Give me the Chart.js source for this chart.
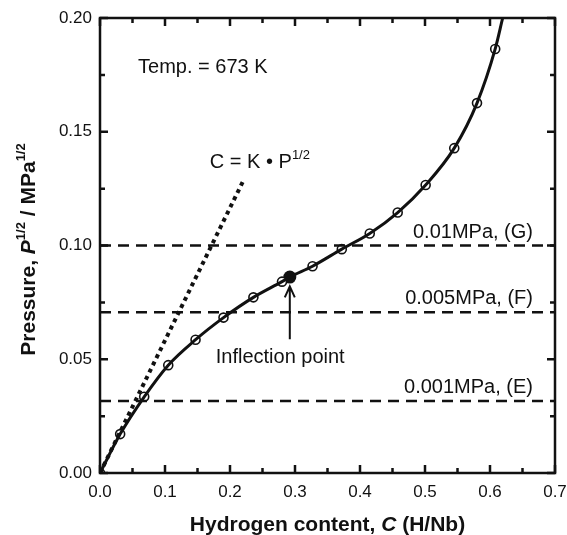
<!DOCTYPE html>
<html>
<head>
<meta charset="utf-8">
<script src="https://cdn.jsdelivr.net/npm/chart.js@4.4.0/dist/chart.umd.min.js"></script>
<style>
  html, body { margin: 0; padding: 0; background: #fff; }
  canvas { display: block; }
</style>
</head>
<body>
<canvas id="chart" width="567" height="535"></canvas>
<script>
// measured points (H/Nb vs sqrt(P))
const contentC = [0, 0.031, 0.068, 0.105, 0.147, 0.190, 0.236, 0.280, 0.327, 0.372, 0.415, 0.458, 0.501, 0.545, 0.580, 0.608];
const pressureP = [0, 0.0171, 0.0335, 0.0474, 0.0586, 0.0683, 0.0772, 0.0841, 0.0909, 0.0984, 0.1053, 0.1145, 0.1266, 0.1428, 0.1626, 0.1864];

// inflection point
const inflectionC = [0.292];
const inflectionP = [0.0861];

// fitted curve continues up past the last point
const curveEndC = [0.6195];
const curveEndP = [0.20];

// Sieverts law line C = K * P^1/2
const sievertsC = [0, 0.2205];
const sievertsP = [0, 0.1285];

// isobars, sqrt of pressure
const isobarP = [0.1, 0.0707, 0.0316];
const isobarLabels = ['0.01MPa, (G)', '0.005MPa, (F)', '0.001MPa, (E)'];

const xTicks = [0, 0.1, 0.2, 0.3, 0.4, 0.5, 0.6, 0.7];
const yTicks = [0, 0.05, 0.10, 0.15, 0.20];

const ink = '#111';
const FONT = '"Liberation Sans", Arial, sans-serif';

const toXY = (xs, ys) => xs.map((x, i) => ({ x: x, y: ys[i] }));

// curve goes through all points incl. inflection point
const curvePts = toXY(contentC, pressureP)
    .concat(toXY(inflectionC, inflectionP))
    .concat(toXY(curveEndC, curveEndP))
    .sort((a, b) => a.x - b.x);

const datasets = [];

isobarP.forEach(p => {
    datasets.push({
        data: [{ x: 0, y: p }, { x: 0.7, y: p }],
        showLine: true,
        borderColor: ink,
        borderWidth: 2.5,
        borderDash: [11, 7],
        pointRadius: 0
    });
});

datasets.push({
    data: toXY(sievertsC, sievertsP),
    showLine: true,
    borderColor: ink,
    borderWidth: 4,
    borderDash: [4, 4],
    pointRadius: 0
});

datasets.push({
    data: curvePts,
    showLine: true,
    borderColor: ink,
    borderWidth: 3,
    cubicInterpolationMode: 'monotone',
    pointRadius: 0
});

datasets.push({
    data: toXY(contentC, pressureP),
    showLine: false,
    pointRadius: 4.5,
    pointBorderWidth: 1.6,
    pointBackgroundColor: '#fff',
    pointBorderColor: ink
});

datasets.push({
    data: toXY(inflectionC, inflectionP),
    showLine: false,
    pointRadius: 6.5,
    pointBorderWidth: 0,
    pointBackgroundColor: ink,
    pointBorderColor: ink
});

// draws runs of text with different fonts, [text, font, dy]
function drawRuns(ctx, runs, x, y, align) {
    let total = 0;
    runs.forEach(r => { ctx.font = r[1]; total += ctx.measureText(r[0]).width; });
    let cx = align === 'center' ? x - total / 2 : (align === 'right' ? x - total : x);
    ctx.textAlign = 'left';
    runs.forEach(r => {
        ctx.font = r[1];
        ctx.fillText(r[0], cx, y + (r[2] || 0));
        cx += ctx.measureText(r[0]).width;
    });
}

const framePlugin = {
    id: 'frame',
    afterDraw(chart) {
        const ctx = chart.ctx;
        const a = chart.chartArea;
        const xs = chart.scales.x;
        const ys = chart.scales.y;
        ctx.save();
        ctx.strokeStyle = ink;
        ctx.fillStyle = ink;

        // inward ticks on every side
        ctx.lineWidth = 2.5;
        for (let i = 0; i <= 14; i++) {
            const v = i * 0.05;
            const px = xs.getPixelForValue(v);
            const len = i % 2 === 0 ? 8 : 5;
            ctx.beginPath();
            ctx.moveTo(px, a.bottom); ctx.lineTo(px, a.bottom - len);
            ctx.moveTo(px, a.top); ctx.lineTo(px, a.top + len);
            ctx.stroke();
        }
        for (let i = 0; i <= 8; i++) {
            const v = i * 0.025;
            const py = ys.getPixelForValue(v);
            const len = i % 2 === 0 ? 8 : 5;
            ctx.beginPath();
            ctx.moveTo(a.left, py); ctx.lineTo(a.left + len, py);
            ctx.moveTo(a.right, py); ctx.lineTo(a.right - len, py);
            ctx.stroke();
        }
        ctx.lineWidth = 2.5;
        ctx.strokeRect(a.left, a.top, a.right - a.left, a.bottom - a.top);

        // annotations
        ctx.textBaseline = 'alphabetic';
        const big = '20px ' + FONT;
        const sup = '13px ' + FONT;
        drawRuns(ctx, [['Temp. = 673 K', big]], xs.getPixelForValue(0.0585), ys.getPixelForValue(0.176), 'left');
        drawRuns(ctx, [['C = K \u2022 P', big], ['1/2', sup, -9]], xs.getPixelForValue(0.169), ys.getPixelForValue(0.134), 'left');
        isobarLabels.forEach((t, i) => {
            drawRuns(ctx, [[t, big]], a.right - 22, ys.getPixelForValue(isobarP[i]) - 8, 'right');
        });
        drawRuns(ctx, [['Inflection point', big]], xs.getPixelForValue(0.178), ys.getPixelForValue(0.0482), 'left');

        // arrow to the inflection point
        const ax = xs.getPixelForValue(inflectionC[0]);
        const y0 = ys.getPixelForValue(0.0588);
        const y1 = ys.getPixelForValue(0.082);
        ctx.lineWidth = 2;
        ctx.beginPath();
        ctx.moveTo(ax, y0); ctx.lineTo(ax, y1);
        ctx.moveTo(ax - 5, y1 + 11); ctx.lineTo(ax, y1); ctx.lineTo(ax + 5, y1 + 11);
        ctx.stroke();

        // axis titles
        const bold = 'bold 21px ' + FONT;
        const boldIt = 'italic bold 21px ' + FONT;
        const bsup = 'bold 13px ' + FONT;
        drawRuns(ctx, [['Hydrogen content, ', bold], ['C', boldIt], [' (H/Nb)', bold]], (a.left + a.right) / 2, 531, 'center');
        ctx.translate(35, (a.top + a.bottom) / 2 + 4);
        ctx.rotate(-Math.PI / 2);
        drawRuns(ctx, [['Pressure, ', bold], ['P', boldIt], ['1/2', bsup, -10], [' / MPa', bold], ['1/2', bsup, -10]], 0, 0, 'center');
        ctx.restore();
    }
};

new Chart(document.getElementById('chart'), {
    type: 'scatter',
    data: { datasets: datasets },
    options: {
        responsive: false,
        animation: false,
        layout: { padding: { top: 18, right: 12, left: 0, bottom: 0 } },
        plugins: { legend: { display: false }, tooltip: { enabled: false } },
        scales: {
            x: {
                type: 'linear',
                min: 0, max: 0.7,
                afterBuildTicks: s => { s.ticks = xTicks.map(v => ({ value: v })); },
                afterFit: s => { s.height = 62; s.paddingRight = 0; s.paddingLeft = 0; },
                grid: { display: false, drawTicks: false },
                border: { display: false },
                ticks: {
                    padding: 9,
                    color: ink,
                    font: { family: FONT, size: 17 },
                    callback: v => v.toFixed(1)
                }
            },
            y: {
                type: 'linear',
                min: 0, max: 0.2,
                afterBuildTicks: s => { s.ticks = yTicks.map(v => ({ value: v })); },
                afterFit: s => { s.width = 100; s.paddingTop = 0; s.paddingBottom = 0; },
                grid: { display: false, drawTicks: false },
                border: { display: false },
                ticks: {
                    padding: 8,
                    color: ink,
                    font: { family: FONT, size: 17 },
                    callback: v => v.toFixed(2)
                }
            }
        }
    },
    plugins: [framePlugin]
});
</script>
</body>
</html>
